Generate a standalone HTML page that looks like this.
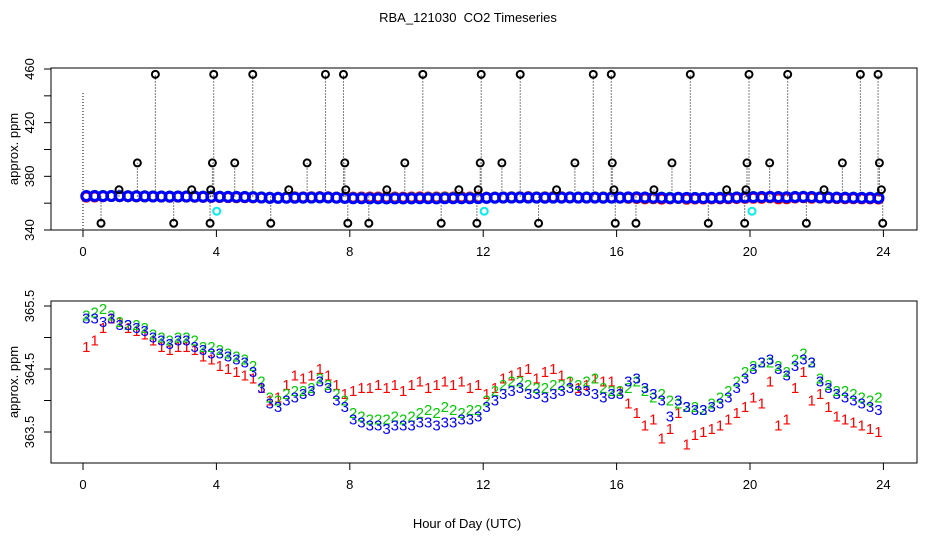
<!DOCTYPE html>
<html><head><meta charset="utf-8"><title>RBA_121030 CO2 Timeseries</title>
<style>
html,body{margin:0;padding:0;background:#fff;}
svg{display:block;font-family:"Liberation Sans",Arial,sans-serif;}
</style></head>
<body>
<svg id="chart" width="936" height="540" viewBox="0 0 936 540" xmlns="http://www.w3.org/2000/svg">
<rect x="0" y="0" width="936" height="540" fill="#fff"/>
<text x="468" y="22" font-size="13" text-anchor="middle">RBA_121030&#160; CO2 Timeseries</text>
<text x="467" y="528" font-size="13" text-anchor="middle">Hour of Day (UTC)</text>
<g id="top"></g>
<g id="bot"></g>
</svg>
<script>
const xTicks = [0,4,8,12,16,20,24];
const topYTicks = [340,360,380,400,420,440,460];
const topYLabels = [340,380,420,460];
const botYTicks = [363.5,364.0,364.5,365.0,365.5];
const botYLabels = ["365.5","364.5","363.5"];
const botYLabelVals = [365.5,364.5,363.5];

const series1 = [364.85,364.95,365.15,365.3, 365.25,365.15,365.1,365.05, 364.95,364.85,364.8,364.85, 364.85,364.8,364.7,364.65,
 364.55,364.5,364.45,364.4, 364.35,364.2,364.0,364.05, 364.25,364.4,364.35,364.4, 364.5,364.4,364.25,364.1,
 364.15,364.2,364.2,364.25, 364.2,364.25,364.15,364.25, 364.3,364.2,364.25,364.3, 364.25,364.3,364.2,364.25,
 364.1,364.2,364.35,364.4, 364.45,364.5,364.35,364.45, 364.5,364.4,364.3,364.2, 364.25,364.35,364.3,364.3,
 364.15,363.95,363.8,363.6, 363.7,363.4,363.55,363.8, 363.3,363.45,363.5,363.55, 363.6,363.7,363.8,363.9,
 364.05,363.95,364.3,363.6, 363.7,364.2,364.45,364.0, 364.1,363.9,363.75,363.7, 363.65,363.6,363.55,363.5];
const series2 = [365.35,365.4,365.45,365.35, 365.25,365.2,365.2,365.15, 365.05,365.0,364.95,365.0, 365.0,364.95,364.85,364.85,
 364.8,364.75,364.7,364.65, 364.55,364.3,364.05,364.0, 364.1,364.15,364.15,364.2, 364.35,364.25,364.1,364.0,
 363.8,363.75,363.7,363.7, 363.7,363.75,363.7,363.75, 363.8,363.85,363.8,363.9, 363.85,363.8,363.85,363.85,
 364.0,364.15,364.25,364.3, 364.3,364.25,364.2,364.2, 364.25,364.25,364.3,364.25, 364.3,364.35,364.2,364.15,
 364.15,364.2,364.3,364.15, 364.05,364.1,364.0,363.95, 363.9,363.9,363.85,363.95, 364.05,364.15,364.3,364.45,
 364.55,364.6,364.6,364.55, 364.45,364.65,364.75,364.6, 364.35,364.25,364.15,364.15, 364.1,364.05,364.0,364.05];
const series3 = [365.3,365.3,365.25,365.3, 365.2,365.2,365.15,365.1, 365.0,364.95,364.9,364.95, 364.95,364.85,364.8,364.75,
 364.75,364.7,364.65,364.6, 364.45,364.2,363.95,363.9, 364.0,364.05,364.1,364.15, 364.3,364.2,364.0,363.9,
 363.7,363.65,363.6,363.6, 363.55,363.6,363.6,363.6, 363.65,363.65,363.6,363.65, 363.65,363.7,363.7,363.75,
 363.9,364.0,364.1,364.15, 364.2,364.1,364.1,364.05, 364.1,364.15,364.2,364.15, 364.15,364.1,364.05,364.1,
 364.1,364.3,364.35,364.2, 364.1,364.0,363.75,364.0, 363.9,363.85,363.85,363.9, 363.95,364.05,364.2,364.35,
 364.5,364.6,364.65,364.5, 364.4,364.55,364.65,364.6, 364.3,364.2,364.1,364.05, 364.0,363.95,363.9,363.85];

const outlierHours = [2.17,3.92,5.09,7.27,7.81,10.19,11.94,13.11,15.3,15.84,18.21,19.97,21.13,23.31,23.84,
 1.63,3.88,4.55,6.72,7.85,9.65,11.91,12.56,14.75,15.87,17.66,19.91,20.59,22.77,23.88,
 1.08,3.26,3.83,6.17,7.88,9.11,11.27,11.85,14.2,15.92,17.12,19.3,19.88,22.22,23.94,
 0.54,2.72,3.81,5.63,7.94,8.57,10.74,11.81,13.66,15.96,16.58,18.75,19.84,21.69,23.98];
const outlierValues = [456,456,456,456,456,456,456,456,456,456,456,456,456,456,456,
 390,390,390,390,390,390,390,390,390,390,390,390,390,390,390,
 370,370,370,370,370,370,370,370,370,370,370,370,370,370,370,
 345,345,345,345,345,345,345,345,345,345,345,345,345,345,345];
const calHours = [4.01,12.03,20.06];
const calValues = [354,354,354];

const NS = "http://www.w3.org/2000/svg";
const X0 = 83, XH = 33.35;
function xs(h){ return X0 + h*XH; }
function ysTop(v){ return 230 - (v-340)*(161/120); }
function ysBot(v){ return 306 + (365.5-v)*(126/2); }
function hourOf(i){ return 0.1 + i*0.25; }
function mk(parent, tag, attrs){
  const el = document.createElementNS(NS, tag);
  for (const k in attrs) el.setAttribute(k, attrs[k]);
  parent.appendChild(el);
  return el;
}
const topG = document.getElementById('top');
const botG = document.getElementById('bot');

function axes(g, y0, y1, yTicks, yFn, labVals, labTxt, panel){
  const box = mk(g,'rect',{x:51,y:y0,width:866,height:y1-y0,fill:'none',stroke:'#000','stroke-width':1});
  
  
  xTicks.forEach(t=>{
    const l = mk(g,'line',{x1:xs(t),x2:xs(t),y1:y1,y2:y1+7,stroke:'#000'});
    
    
    const tx = mk(g,'text',{x:xs(t),y:y1+26,'font-size':13,'text-anchor':'middle'});
    tx.textContent = t;
    
    
  });
  yTicks.forEach(v=>{
    const l = mk(g,'line',{x1:44,x2:51,y1:yFn(v),y2:yFn(v),stroke:'#000'});
    
    
  });
  labVals.forEach((v,i)=>{
    const y = yFn(v);
    const tx = mk(g,'text',{x:0,y:0,'font-size':13,'text-anchor':'middle',transform:`translate(34,${y}) rotate(-90)`});
    tx.textContent = labTxt[i];
    
    
  });
  const yt = mk(g,'text',{x:0,y:0,'font-size':13,'text-anchor':'middle',transform:`translate(18,${(y0+y1)/2}) rotate(-90)`});
  yt.textContent = 'approx. ppm';
  
  
}
axes(topG, 68, 230, topYTicks, ysTop, topYLabels, topYLabels.map(String), 'top');
axes(botG, 301, 463, botYTicks, ysBot, botYLabelVals, botYLabels, 'bottom');

const z = mk(topG,'line',{x1:xs(0),x2:xs(0),y1:93,y2:230,stroke:'#000','stroke-dasharray':'1,2'});


outlierHours.forEach((h,i)=>{
  const l = mk(topG,'line',{x1:xs(h),x2:xs(h),y1:ysTop(365),y2:ysTop(outlierValues[i]),stroke:'#000','stroke-dasharray':'1,2'});
  
  
});
[[series1,'#f00'],[series2,'#0c0'],[series3,'#00f']].forEach(([s,c],si)=>{
  s.forEach((v,i)=>{
    const p = mk(topG,'circle',{cx:xs(hourOf(i)),cy:ysTop(v),r:4.5,fill:'none',stroke:c,'stroke-width':3});
    
    
  });
});
outlierHours.forEach((h,i)=>{
  const p = mk(topG,'circle',{cx:xs(h),cy:ysTop(outlierValues[i]),r:3.5,fill:'none',stroke:'#000','stroke-width':2});
  
  
});
calHours.forEach((h,i)=>{
  const p = mk(topG,'circle',{cx:xs(h),cy:ysTop(calValues[i]),r:3.5,fill:'none',stroke:'#0ee','stroke-width':2});
  
  
});

[[series1,'#f00','1'],[series2,'#0c0','2'],[series3,'#00f','3']].forEach(([s,c,g],si)=>{
  s.forEach((v,i)=>{
    const t = mk(botG,'text',{x:xs(hourOf(i)),y:ysBot(v)+5,'font-size':15,'text-anchor':'middle',fill:c});
    t.textContent = g;
    
    
  });
});
</script>
</body></html>
